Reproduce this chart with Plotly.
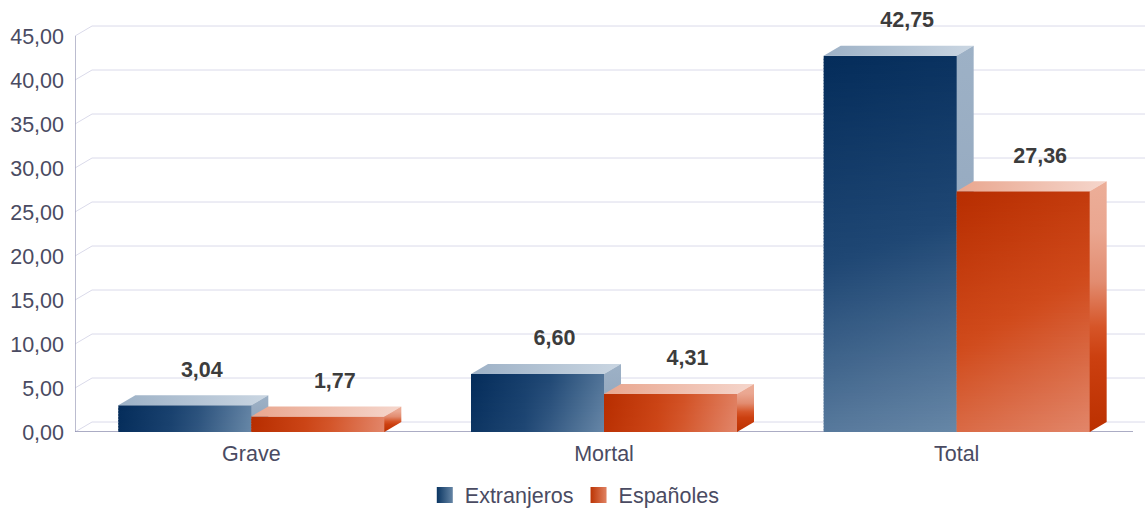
import math
import plotly.graph_objects as go

# ---------------- data ----------------
categories = ["Grave", "Mortal", "Total"]
extranjeros = [3.04, 6.60, 42.75]
espanoles = [1.77, 4.31, 27.36]
series_names = ["Extranjeros", "Españoles"]
y_ticks = [0, 5, 10, 15, 20, 25, 30, 35, 40, 45]

# ---------------- layout constants ----------------
W, H = 1145, 512
ML, MB = 75, 80
PX_X = 1058 / 3.0          # pixels per category unit
PX_Y = 8.8                 # pixels per value unit
Y_MAX = 47.5
MT = H - MB - Y_MAX * PX_Y
X0 = -0.5
X1 = X0 + (W - ML) / PX_X
DEPTH_X = 17 / PX_X
DEPTH_Y = 10 / PX_Y
BAR_W = 133 / PX_X
LABEL_GAP = 24 / PX_Y
SEAM = 1 / PX_X
FONT = "Liberation Sans, Arial, sans-serif"
TEXT_COL = "#4a4b62"
FS = 21.5

styles = [
    dict(front=[(0, "#042c5a"), (0.5, "#1f4774"), (1, "#6787a7")],
         top=[(0, "#9db1c6"), (1, "#cad6e2")],
         side=[(0, "#8aa0b8"), (0.6, "#97abc1"), (1, "#9db1c6")],
         legend=("#0a3562", "#6585a5")),
    dict(front=[(0, "#b72d00"), (0.5, "#d04a1b"), (1, "#e2866a")],
         top=[(0, "#e9a68e"), (1, "#f5d6cc")],
         side=[(0, "#bb3000"), (0.3, "#cc4010"), (0.42, "#d65528"),
               (0.6, "#e28c70"), (0.8, "#eaa690"), (1, "#ecae98")],
         legend=("#bc3404", "#e08262")),
]


def hex2rgb(h):
    h = h.lstrip("#")
    return [int(h[i:i + 2], 16) for i in (0, 2, 4)]


def interp(stops, t):
    t = min(1.0, max(0.0, t))
    for (p0, c0), (p1, c1) in zip(stops[:-1], stops[1:]):
        if t <= p1:
            f = 0 if p1 == p0 else (t - p0) / (p1 - p0)
            a, b = hex2rgb(c0), hex2rgb(c1)
            return "rgb(%d,%d,%d)" % tuple(round(a[i] + (b[i] - a[i]) * f) for i in range(3))
    return "rgb(%d,%d,%d)" % tuple(hex2rgb(stops[-1][1]))


def scale_between(stops, t0, t1, n=6):
    return [[i / (n - 1), interp(stops, t0 + (t1 - t0) * i / (n - 1))] for i in range(n)]


def full_scale(stops):
    return [[p, c] for p, c in stops]


fig = go.Figure()

# ---------------- back wall gridlines ----------------
gx, gy = [], []
for v in y_ticks:
    gx += [X0, X0 + DEPTH_X, X1, None]
    gy += [v, v + DEPTH_Y, v + DEPTH_Y, None]
fig.add_trace(go.Scatter(x=gx, y=gy, mode="lines", line=dict(color="#dadaea", width=1),
                         hoverinfo="skip", showlegend=False))
# y axis line and base line
fig.add_trace(go.Scatter(x=[X0, X0], y=[y_ticks[0], y_ticks[-1]], mode="lines",
                         line=dict(color="#a4a6bf", width=1.5), hoverinfo="skip", showlegend=False))
fig.add_trace(go.Scatter(x=[X0, len(categories) - 0.5], y=[0, 0], mode="lines",
                         line=dict(color="#8f91b0", width=1.5), hoverinfo="skip", showlegend=False))


def poly(xs, ys, grad):
    fig.add_trace(go.Scatter(x=xs, y=ys, fill="toself", mode="none", fillgradient=grad,
                             hoverinfo="skip", showlegend=False))


def draw_bar(xl, v, st):
    xr = xl + BAR_W
    xe = xr + SEAM   # slight overlap under the next face to avoid seams
    wpx = BAR_W * PX_X
    hpx = v * PX_Y
    # gradient along the face diagonal (top-left -> bottom-right) in pixel space
    denom = wpx * wpx + hpx * hpx
    n = max(1, math.ceil(hpx / 3))
    ov = 1.5 / PX_Y
    for j in range(n):
        ytop = v - v * j / n
        ybot = v - v * (j + 1) / n
        yb = max(0.0, ybot - ov)
        ymid = (v - (ytop + ybot) / 2) * PX_Y
        t0 = (ymid * hpx) / denom
        t1 = (wpx * wpx + ymid * hpx) / denom
        poly([xl, xe, xe, xl, xl], [ytop, ytop, yb, yb, ytop],
             dict(type="horizontal", start=xl, stop=xr,
                  colorscale=scale_between(st["front"], t0, t1)))
    # top face
    poly([xl, xl + DEPTH_X, xr + DEPTH_X, xr, xl], [v, v + DEPTH_Y, v + DEPTH_Y, v, v],
         dict(type="horizontal", start=xl, stop=xr + DEPTH_X, colorscale=full_scale(st["top"])))
    # side face
    poly([xr, xr + DEPTH_X, xr + DEPTH_X, xr, xr], [0, DEPTH_Y, v + DEPTH_Y, v, 0],
         dict(type="vertical", start=0, stop=v + DEPTH_Y, colorscale=full_scale(st["side"])))


series = [extranjeros, espanoles]
lab_x, lab_y, lab_t = [], [], []
for i, cat in enumerate(categories):
    for s, vals in enumerate(series):
        v = vals[i]
        xl = i - BAR_W + s * BAR_W
        draw_bar(xl, v, styles[s])
        lab_x.append(xl + BAR_W / 2 + DEPTH_X)
        lab_y.append(v + DEPTH_Y + LABEL_GAP)
        lab_t.append(("%.2f" % v).replace(".", ","))

fig.add_trace(go.Scatter(x=lab_x, y=lab_y, text=lab_t, mode="text", textposition="middle center",
                         textfont=dict(family=FONT, size=FS, color="#3c3c3c", weight="bold"),
                         cliponaxis=False, hoverinfo="skip", showlegend=False))

# legend entries
for s, name in enumerate(series_names):
    c0, c1 = styles[s]["legend"]
    fig.add_trace(go.Scatter(x=[None], y=[None], mode="markers", name=name,
                             marker=dict(symbol="square", size=16, color=c0,
                                         gradient=dict(type="horizontal", color=c1),
                                         line=dict(width=0))))

fig.update_layout(
    width=W, height=H,
    margin=dict(l=ML, r=0, t=MT, b=MB, pad=0),
    paper_bgcolor="white", plot_bgcolor="white",
    separators=",.",
    font=dict(family=FONT, size=FS, color=TEXT_COL),
    showlegend=True,
    legend=dict(orientation="h", xref="container", yref="container", x=0.502, y=1 - 495 / H,
                xanchor="center", yanchor="middle", font=dict(size=FS, color=TEXT_COL),
                itemsizing="trace"),
    xaxis=dict(range=[X0, X1], tickvals=list(range(len(categories))), ticktext=categories,
               showgrid=False, zeroline=False, showline=False, ticks="",
               tickfont=dict(size=FS, color=TEXT_COL), ticklabelstandoff=6, fixedrange=True),
    yaxis=dict(range=[0, Y_MAX], tickvals=y_ticks, tickformat=".2f",
               showgrid=False, zeroline=False, showline=False, ticks="",
               tickfont=dict(size=FS, color=TEXT_COL), ticklabelstandoff=10, fixedrange=True),
)

fig.write_html("out.html", config={"displayModeBar": False},
               post_script="document.body.style.margin='0px';document.body.style.overflow='hidden';")
